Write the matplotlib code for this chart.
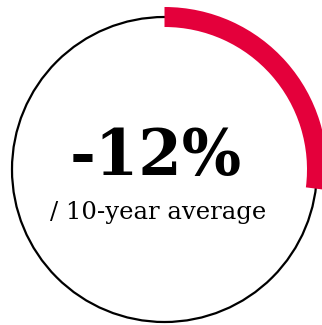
import matplotlib.pyplot as plt
from matplotlib.patches import Circle, Wedge

# data
value_label = "-12%"
sub_label = "/ 10-year average"
arc_share = 0.27  # share of the ring filled in red

W, H = 322, 325
fig = plt.figure(figsize=(W / 100, H / 100), dpi=100)
ax = fig.add_axes([0, 0, 1, 1])
ax.set_xlim(0, W)
ax.set_ylim(H, 0)
ax.axis("off")

cx, cy, r = 164.5, 169.5, 152.5

ax.add_patch(Circle((cx, cy), r, fill=False, edgecolor="black", linewidth=1.6))

# y axis is inverted, so angles run clockwise on screen
start = -90
end = -90 + 360 * arc_share
ax.add_patch(Wedge((cx, cy), r + 10, start, end, width=20,
                   facecolor="#e4003b", edgecolor="none"))

ax.text(156, 175, value_label, ha="center", va="baseline",
        fontsize=45, fontweight="bold", family="DejaVu Serif")
ax.text(158, 219, sub_label, ha="center", va="baseline",
        fontsize=17.5, family="DejaVu Serif")

fig.savefig("out.png", dpi=100)
